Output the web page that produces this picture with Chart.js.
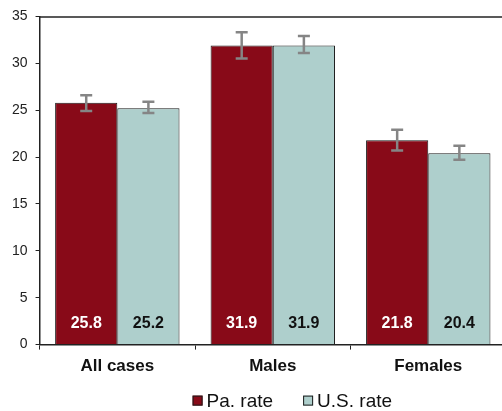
<!DOCTYPE html>
<html lang="en">
  <head>
    <meta charset="UTF-8" />
    <title>Rates</title>
    <script src="https://cdn.jsdelivr.net/npm/chart.js"></script>
    <style>
      html, body { margin: 0; padding: 0; background: #fff; overflow: hidden; }
      #wrap { width: 506px; height: 411px; }
    </style>
  </head>
  <body>
    <div id="wrap"><canvas id="myChart" width="506" height="411"></canvas></div>
    <script>
// data
const categorias = ['All cases', 'Males', 'Females'];
const paRate = [25.8, 31.9, 21.8];
const usRate = [25.2, 31.9, 20.4];
const paLow = [24.9, 30.5, 20.7];
const paHigh = [26.6, 33.3, 22.9];
const usLow = [24.7, 31.1, 19.7];
const usHigh = [25.9, 32.9, 21.2];
const yTicks = [0, 5, 10, 15, 20, 25, 30, 35];

const fonte = '"Liberation Sans", Arial, sans-serif';

// error bars + value labels + top frame line + legend
const extras = {
  id: 'extras',
  afterDatasetsDraw(chart) {
    const ctx = chart.ctx;
    const y = chart.scales.y;
    const area = chart.chartArea;
    const lows = [paLow, usLow];
    const highs = [paHigh, usHigh];
    ctx.save();
    // top line
    ctx.strokeStyle = '#222';
    ctx.lineWidth = 1.5;
    ctx.beginPath();
    ctx.moveTo(area.left, area.top + 0.5);
    ctx.lineTo(area.right, area.top + 0.5);
    ctx.stroke();

    chart.data.datasets.forEach(function (ds, i) {
      const meta = chart.getDatasetMeta(i);
      meta.data.forEach(function (bar, j) {
        // error bar
        const yl = y.getPixelForValue(lows[i][j]);
        const yh = y.getPixelForValue(highs[i][j]);
        ctx.strokeStyle = '#858585';
        ctx.lineWidth = 2.5;
        ctx.beginPath();
        ctx.moveTo(bar.x, yl); ctx.lineTo(bar.x, yh);
        ctx.moveTo(bar.x - 6, yl); ctx.lineTo(bar.x + 6, yl);
        ctx.moveTo(bar.x - 6, yh); ctx.lineTo(bar.x + 6, yh);
        ctx.stroke();
        // value label
        ctx.fillStyle = i === 0 ? '#ffffff' : '#111111';
        ctx.font = 'bold 16px ' + fonte;
        ctx.textAlign = 'center';
        ctx.textBaseline = 'middle';
        ctx.fillText(ds.data[j].toFixed(1), bar.x, y.getPixelForValue(0) - 21);
      });
    });

    // legend (drawn by hand, spacing like the original)
    let lx = area.left + 153;
    const ly = area.bottom + 56;
    ctx.font = '19px ' + fonte;
    ctx.textAlign = 'left';
    ctx.textBaseline = 'middle';
    chart.data.datasets.forEach(function (ds) {
      ctx.fillStyle = ds.backgroundColor;
      ctx.fillRect(lx, ly - 5, 10, 10);
      ctx.strokeStyle = '#1a1a1a';
      ctx.lineWidth = 1;
      ctx.strokeRect(lx + 0.5, ly - 4.5, 9, 9);
      ctx.fillStyle = '#111';
      ctx.fillText(ds.label, lx + 14, ly + 1);
      lx += 14 + ctx.measureText(ds.label).width + 30;
    });
    ctx.restore();
  }
};

const ctx1 = document.getElementById('myChart');
const grafico = new Chart(ctx1, {
  type: 'bar',
  data: {
    labels: categorias,
    datasets: [
      {
        label: 'Pa. rate',
        data: paRate,
        backgroundColor: '#880a18',
        borderColor: '#1a1a1a',
        borderWidth: 1
      },
      {
        label: 'U.S. rate',
        data: usRate,
        backgroundColor: '#aecfcc',
        borderColor: '#1a1a1a',
        borderWidth: 1
      }
    ]
  },
  options: {
    responsive: false,
    animation: false,
    layout: { padding: { top: 16, left: 4, right: 0, bottom: 27 } },
    datasets: { bar: { categoryPercentage: 0.8, barPercentage: 1.0 } },
    plugins: {
      tooltip: { enabled: false },
      legend: { display: false }
    },
    scales: {
      x: {
        grid: { display: true, offset: true, drawOnChartArea: false, tickLength: 5, color: '#222' },
        border: { display: true, color: '#222', width: 1.5 },
        ticks: { color: '#111', padding: 7, font: { family: fonte, size: 17, weight: 'bold' } }
      },
      y: {
        min: 0,
        max: 35,
        afterBuildTicks: function (axis) {
          axis.ticks = yTicks.map(v => ({ value: v }));
        },
        grid: { display: true, drawOnChartArea: false, tickLength: 4, color: '#222' },
        border: { display: true, color: '#222', width: 1.5 },
        ticks: { color: '#222', padding: 8, font: { family: fonte, size: 14 } }
      }
    }
  },
  plugins: [extras]
});
    </script>
  </body>
</html>
